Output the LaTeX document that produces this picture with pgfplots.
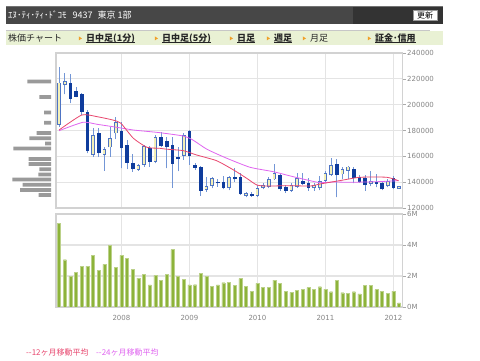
\documentclass[border=0pt]{standalone}
\usepackage{fontspec}
\setmainfont{DejaVu Sans}
\newfontfamily\jp{Noto Sans CJK JP}
\usepackage{pgfplots}
\pgfplotsset{compat=1.18}
\usepackage{pgfplotstable}

\definecolor{gridc}{HTML}{E4E4E4}
\definecolor{axisc}{HTML}{D2D2D2}
\definecolor{tickc}{HTML}{858585}
\definecolor{downc}{HTML}{0F3C9C}
\definecolor{upedge}{HTML}{4E74C4}
\definecolor{upfill}{HTML}{F3F0B8}
\definecolor{wickc}{HTML}{7396D6}
\definecolor{volc}{HTML}{8DB33A}
\definecolor{ma12}{HTML}{E8466E}
\definecolor{ma24}{HTML}{E064F0}
\definecolor{profc}{HTML}{9A9A9A}
\definecolor{headbg}{HTML}{474747}
\definecolor{tabbg}{HTML}{E9F1D4}
\definecolor{orangec}{HTML}{F0A028}

\pgfplotstableread{
i o h l c
0 184300 228900 182900 217000
1 215200 224300 208000 218100
6 161000 181700 159700 176500
8 161000 167000 148900 165700
9 167000 182900 159700 174400
10 177800 190700 173400 186300
14 149400 153800 148900 153100
15 153300 168800 152000 168000
17 155800 176500 154600 174700
22 160500 178300 157200 176300
26 133900 143800 132600 137000
27 137000 144200 135300 143000
30 135300 144800 133900 143800
33 129300 132200 128300 131400
35 129300 137800 128800 135300
36 135300 139100 134500 137800
37 136500 143800 135300 142500
38 142200 154100 141700 146900
41 133400 139100 132600 137600
42 136500 147300 135700 143000
45 135300 139600 133400 137800
46 135300 144800 133900 141100
47 141100 148900 140400 146900
48 145500 158500 144800 153300
50 146100 151500 142200 150000
51 148900 152500 142200 152000
55 138600 148600 137000 141100
58 137000 142200 136000 141100
60 134900 137000 134900 137000
}\upc

\pgfplotstableread{
i o h l c
2 217000 223700 201100 204400
3 210800 213400 205700 206200
4 208300 208800 192000 194600
5 194100 195900 162300 164100
7 177800 181700 159700 162800
11 179800 186800 150700 166200
12 168800 172600 150000 155100
13 154600 161600 148100 150000
16 166700 168000 152000 155800
18 174700 179100 167000 168000
19 171900 175200 150700 167000
20 168800 174700 135700 154100
21 159700 167000 148600 157700
23 179800 180400 153300 160300
24 153000 155000 149500 151000
25 151500 152500 129300 133400
28 140100 142200 136500 139100
29 140400 144800 134500 135300
31 143800 150700 140400 142200
32 143800 146900 130100 130800
34 130800 132600 128800 129300
39 145500 146900 133400 134500
40 136500 137800 131900 133400
43 140900 146900 137800 138600
44 139100 143000 133400 135300
49 153800 157700 128300 145500
52 150200 152000 139100 143000
53 143800 145500 139600 140400
54 143500 145500 133400 137800
56 140400 146300 136000 138600
57 139600 140400 133900 134500
59 143000 144800 134500 135300
}\downc

\pgfplotstableread{
i v
0 5.38
1 3.05
2 1.98
3 2.24
4 2.62
5 2.62
6 3.33
7 2.37
8 2.75
9 3.98
10 2.54
11 3.33
12 3.12
13 2.41
14 1.87
15 2.09
16 1.42
17 2.04
18 1.70
19 2.09
20 3.70
21 1.98
22 1.78
23 1.42
24 1.44
25 2.19
26 1.98
27 1.33
28 1.42
29 1.57
30 1.61
31 1.38
32 1.83
33 1.33
34 1.03
35 1.53
36 1.25
37 1.25
38 1.74
39 1.51
40 1.03
41 0.95
42 1.08
43 1.16
44 1.25
45 1.16
46 1.31
47 1.16
48 0.99
49 1.74
50 0.92
51 0.88
52 0.99
53 0.84
54 1.40
55 1.40
56 1.12
57 1.03
58 0.90
59 1.03
60 0.26
}\vol

\pgfplotsset{
  chartbase/.style={
    scale only axis, anchor=south west,
    width=346.5pt,
    xmin=-0.55, xmax=60.6,
    xtick={11,23,35,47,59},
    ytick pos=right, yticklabel pos=right,
    tick align=outside, major tick length=3pt,
    xtick style={draw=none},
    ytick style={draw=tickc!70, line width=0.6pt},
    grid=major, major grid style={draw=gridc, line width=1.2pt},
    axis line style={draw=axisc, line width=1.2pt},
    tick label style={font=\fontsize{7}{8}\selectfont, text=tickc,
      /pgf/number format/assume math mode=true},
    yticklabel style={inner sep=1.5pt},
    scaled y ticks=false,
  },
  ebar/.style 2 args={only marks, mark=*, mark size=0pt,
    mark options={draw=none, fill=none}, forget plot,
    error bars/.cd, y dir=plus, y explicit, error mark=none,
    error bar style={draw=#1, line width=#2, line cap=butt}},
}

\begin{document}
\begin{tikzpicture}[x=1pt,y=1pt]
\path[use as bounding box, fill=white] (0,0) rectangle (480,361);

% header bar
\fill[headbg] (6,337) rectangle (443,355);
\fill[black!80] (353,337) rectangle (443,355);
\draw[black!55, line width=0.5pt] (6,354.8) -- (443,354.8);
\node[anchor=base west, inner sep=0, text=white] at (8,342.6)
  {\jp\fontsize{9}{9}\selectfont ｴﾇ･ﾃｨ･ﾃｨ･ﾄﾞｺﾓ\hspace{6pt}9437\hspace{5pt}東京 1部};
\fill[white, draw=black!40, line width=0.5pt] (413,341) rectangle (437,351);
\node[inner sep=0] at (425,346) {\jp\fontsize{8}{8}\selectfont 更新};

% tab band
\fill[tabbg] (6,316) rectangle (443,330);
\draw[black!22, line width=0.8pt] (6,330.4) -- (430,330.4);
\node[anchor=base west, inner sep=0, text=black!85] at (8,319.8) {\jp\fontsize{9}{9}\selectfont 株価チャート};
\foreach \tx in {80,156,231,268,304,369}{
  \fill[orangec] (\tx-1.2,320.6) -- (\tx-1.2,324.6) -- (\tx+2,322.6) -- cycle;
}
\node (t1) [anchor=base west, inner sep=0, text=black!85] at (86,319.8) {\jp\bfseries\fontsize{9}{9}\selectfont 日中足(1分)};
\node (t2) [anchor=base west, inner sep=0, text=black!85] at (162,319.8) {\jp\bfseries\fontsize{9}{9}\selectfont 日中足(5分)};
\node (t3) [anchor=base west, inner sep=0, text=black!85] at (237,319.8) {\jp\bfseries\fontsize{9}{9}\selectfont 日足};
\node (t4) [anchor=base west, inner sep=0, text=black!85] at (274,319.8) {\jp\bfseries\fontsize{9}{9}\selectfont 週足};
\node [anchor=base west, inner sep=0, text=black!85] at (310,319.8) {\jp\fontsize{9}{9}\selectfont 月足};
\node (t6) [anchor=base west, inner sep=0, text=black!85] at (375,319.8) {\jp\bfseries\fontsize{9}{9}\selectfont 証金･信用};
\foreach \t in {t1,t2,t3,t4,t6}{
  \draw[black!85, line width=0.6pt] ([yshift=-1.6pt]\t.base west) -- ([yshift=-1.6pt]\t.base east);
}

% price panel
\begin{axis}[chartbase, at={(56pt,153pt)}, height=155pt,
  ymin=120000, ymax=240000,
  ytick={120000,140000,160000,180000,200000,220000,240000},
  xticklabels={},
  yticklabel style={/pgf/number format/fixed, /pgf/number format/1000 sep={}},
]
\addplot[ebar={wickc}{0.9pt}] table[x=i, y=l, y error plus expr=\thisrow{h}-\thisrow{l}] {\upc};
\addplot[ebar={wickc}{0.9pt}] table[x=i, y=l, y error plus expr=\thisrow{h}-\thisrow{l}] {\downc};
\addplot[ebar={upedge}{3.6pt}] table[x=i, y=o, y error plus expr=\thisrow{c}-\thisrow{o}] {\upc};
\addplot[ebar={upfill}{2.0pt}] table[x=i, y expr=\thisrow{o}+600, y error plus expr=\thisrow{c}-\thisrow{o}-1200] {\upc};
\addplot[ebar={downc}{3.5pt}] table[x=i, y=c, y error plus expr=\thisrow{o}-\thisrow{c}] {\downc};
\addplot[ma24, line width=0.8pt, mark=none, smooth, tension=0.35] coordinates {
(0,179850) (4.2,186350) (6.7,184800) (9.5,182940) (13.1,180390) (16.1,179070)
(17.8,178300) (21.9,175740) (23.6,172650) (26.1,165450) (29.6,158480)
(33.7,151510) (37.8,148110) (41.3,144240) (44.3,141140) (46.1,139590)
(48.4,140130) (51.4,139900) (56.1,140360) (59.9,141140)};
\addplot[ma12, line width=0.8pt, mark=none, smooth, tension=0.35] coordinates {
(0,180400) (4.0,192000) (6.7,190700) (9.5,188100) (10.9,185600) (13.1,174000)
(15.5,167000) (17.8,166200) (19,165500) (21.9,164400) (24.3,161000)
(27.8,156600) (30.8,149400) (33.1,143000) (34.9,137800) (36.7,137000)
(40.8,137300) (44.3,137000) (46.1,138600) (50.2,141700) (53.1,143800)
(57.8,143800) (59.9,141100)};
\end{axis}

% volume-by-price profile
\begin{axis}[at={(10pt,153pt)}, anchor=south west, scale only axis,
  width=41pt, height=155pt, xmin=0, xmax=41, ymin=120000, ymax=240000,
  x dir=reverse, hide axis, xbar, bar width=3.7pt]
\addplot[fill=profc, draw=none] coordinates {
(23.7,218000) (11.7,206000) (7,194000) (7,186000) (14.3,178000) (21.7,174000)
(6,170000) (37.7,166000) (22.3,158000) (22.3,154000) (11.7,150000)
(12.7,146000) (38.7,142000) (28.3,138000) (31,134000) (12.3,130000)};
\end{axis}

% volume panel
\begin{axis}[chartbase, at={(56pt,54pt)}, height=93pt,
  ymin=0, ymax=6, ytick={0,2,4,6}, yticklabels={0M,2M,4M,6M},
  xticklabels={2008,2009,2010,2011,2012},
  xticklabel style={yshift=-2pt},
  ybar, bar width=3pt,
]
\addplot[fill=volc, draw=volc!60!white, line width=0.3pt] table[x=i, y=v] {\vol};
\end{axis}

% legend
\node[anchor=base west, inner sep=0, text=ma12] at (26,5) {\jp\fontsize{8}{8}\selectfont --12ヶ月移動平均};
\node[anchor=base west, inner sep=0, text=ma24] at (96,5) {\jp\fontsize{8}{8}\selectfont --24ヶ月移動平均};
\end{tikzpicture}
\end{document}
